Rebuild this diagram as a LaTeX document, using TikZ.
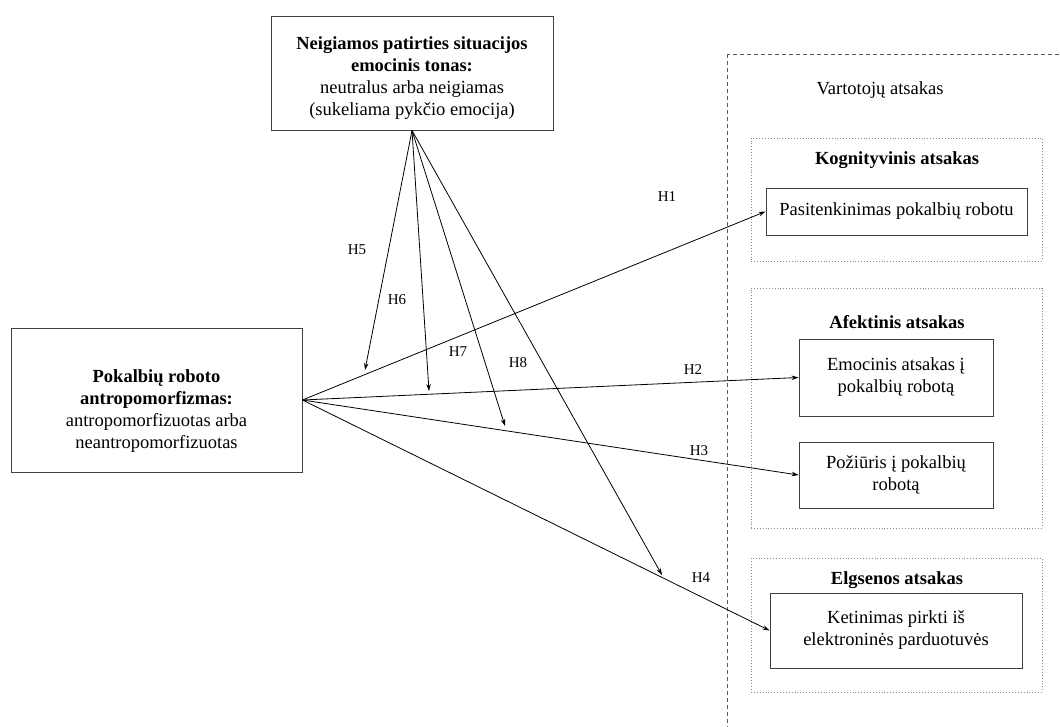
\documentclass[tikz,border=0pt]{standalone}
\usepackage{fontspec}
\setmainfont{Liberation Serif}
\usetikzlibrary{arrows.meta}

\tikzset{
  box/.style={draw=black!75,line width=0.9pt,align=center,inner sep=0pt,
    font=\fontsize{18.5}{22}\selectfont},
  boxtext/.style={align=center,inner sep=0pt,font=\fontsize{18.5}{22}\selectfont},
  group/.style={draw=black!45,dotted,line width=0.9pt},
  title/.style={font=\fontsize{18.5}{22}\selectfont},
  hyp/.style={font=\fontsize{15}{18}\selectfont},
  link/.style={->,line width=0.8pt},
  >={Stealth[length=7pt,width=4.5pt]}
}

\begin{document}
\begin{tikzpicture}[x=1pt,y=-1pt]
\useasboundingbox (0,0) rectangle (1060,727);
% The outer frame
\begin{scope}
\clip (0,0) rectangle (1060,727);
\draw[dash pattern=on 4pt off 3pt,draw=black!65,line width=0.9pt] (727,54) rectangle (1090,760);
\end{scope}
\node[title] (resp) at (880,90) {Vartotojų atsakas};

% The groups
\node[group,minimum width=291,minimum height=123] (kog) at (896.5,199.5) {};
\node[group,minimum width=291,minimum height=240] (afe) at (896.5,408) {};
\node[group,minimum width=291,minimum height=134] (elg) at (896.5,625) {};
\node[title] (kogtitle) at (897,160) {\bfseries Kognityvinis atsakas};
\node[title] (afetitle) at (897,322) {\bfseries Afektinis atsakas};
\node[title] (elgtitle) at (897,580) {\bfseries Elgsenos atsakas};

% The boxes
\node[box,minimum width=282,minimum height=114] (tone) at (412,73) {};
\node[boxtext] (tonetext) at ([yshift=-5pt]tone.center)
  {\textbf{Neigiamos patirties situacijos}\\\textbf{emocinis tonas:}\\neutralus arba neigiamas\\(sukeliama pykčio emocija)};
\node[box,minimum width=291,minimum height=144] (anthro) at (156.5,400) {};
\node[boxtext] (anthrotext) at ([yshift=-11pt]anthro.center)
  {\textbf{Pokalbių roboto}\\\textbf{antropomorfizmas:}\\antropomorfizuotas arba\\neantropomorfizuotas};
\node[box,minimum width=261,minimum height=47] (satis) at (896.5,211.5) {Pasitenkinimas pokalbių robotu};
\node[box,minimum width=194,minimum height=77] (emo) at (896,377.5) {Emocinis atsakas į\\pokalbių robotą};
\node[box,minimum width=194,minimum height=66] (att) at (896,475) {Požiūris į pokalbių\\robotą};
\node[box,minimum width=252,minimum height=75] (buy) at (896,630.5) {Ketinimas pirkti iš\\elektroninės parduotuvės};

% The direct paths
\draw[link] (anthro.east) -- (satis.west);
\draw[link] (anthro.east) -- (emo.west);
\draw[link] (anthro.east) -- (att.west);
\draw[link] (anthro.east) -- (buy.west);

% The moderating paths
\coordinate (m5) at (365,370);
\coordinate (m6) at (429,391);
\coordinate (m7) at (505,426);
\coordinate (m8) at (662,575);
\foreach \m in {m5,m6,m7,m8}
  \draw[link] (tone.south) -- (\m);

% The labels
\node[hyp] (h1) at (667,197) {H1};
\node[hyp] (h2) at (693,370) {H2};
\node[hyp] (h3) at (699,451) {H3};
\node[hyp] (h4) at (701,578) {H4};
\node[hyp] (h5) at (357,250) {H5};
\node[hyp] (h6) at (397,300) {H6};
\node[hyp] (h7) at (458,352) {H7};
\node[hyp] (h8) at (518,363) {H8};
\end{tikzpicture}
\end{document}
